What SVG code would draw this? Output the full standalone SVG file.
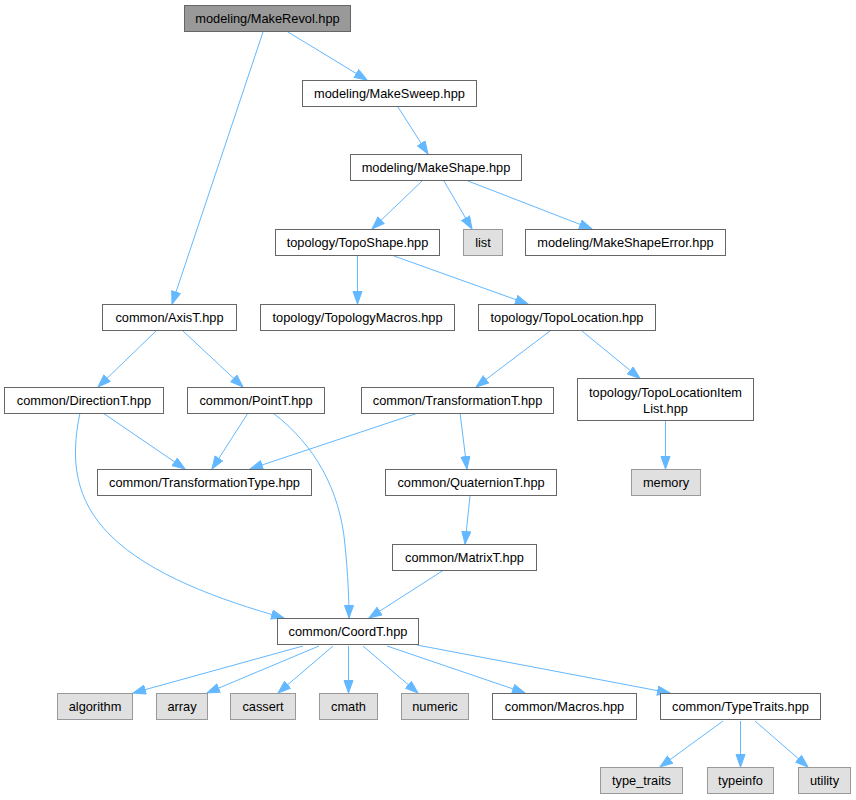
<svg xmlns="http://www.w3.org/2000/svg" width="856" height="800" viewBox="0 0 856 800">
<style>
  .n rect { fill: #ffffff; stroke: #666666; stroke-width: 1; }
  .s rect { fill: #e0e0e0; stroke: #999999; stroke-width: 1; }
  .r rect { fill: #999999; stroke: #666666; stroke-width: 1; }
  text { font-family: "Liberation Sans", Arial, sans-serif; font-size: 12.8px; fill: #000000; text-anchor: middle; }
  #edges path { fill: none; stroke: #63b8ff; stroke-width: 1; marker-end: url(#arr); }
</style>
<defs>
  <marker id="arr" markerUnits="userSpaceOnUse" markerWidth="14" markerHeight="11" refX="13" refY="5" orient="auto">
    <path d="M0.5,0.5 L13,5 L0.5,9.5 z" fill="#63b8ff" stroke="#63b8ff" stroke-width="1"/>
  </marker>
</defs>
<rect width="856" height="800" fill="#ffffff"/>
<g id="edges">
  <path d="M288,32 L367,80"/>
  <path d="M263,32 L172,304"/>
  <path d="M398,107 L428,154"/>
  <path d="M422,181 L372,229"/>
  <path d="M444,181 L472,229"/>
  <path d="M468,181 L592,229"/>
  <path d="M357.5,256 L357.5,304"/>
  <path d="M394,256 L528,304"/>
  <path d="M550,331 L476,387"/>
  <path d="M582,331 L640,378.5"/>
  <path d="M665.5,421 L665.5,469"/>
  <path d="M418,413 L250,469"/>
  <path d="M460,413 L467,469"/>
  <path d="M470,496 L465,544"/>
  <path d="M443,570.5 L369,618"/>
  <path d="M156,331 L98,387"/>
  <path d="M183,331 L243,387"/>
  <path d="M103,413 L185,469"/>
  <path d="M248,413 L212,469"/>
  <path d="M80,413 C70,460 75,500 110,535 C150,575 220,600 284,618"/>
  <path d="M273,413 C315,445 340,490 345,545 C348,575 349,600 349,618"/>
  <path d="M303,646 L133,693"/>
  <path d="M319,646 L207,693"/>
  <path d="M333,646 L278,693"/>
  <path d="M348.5,646 L348.5,693"/>
  <path d="M363,646 L418,693"/>
  <path d="M387,646 L525,693"/>
  <path d="M417,645 L670,693"/>
  <path d="M723,721 L660,767"/>
  <path d="M740.5,721 L740.5,767"/>
  <path d="M755,721 L808,767"/>
</g>
<g id="MakeRevol" class="r"><rect x="184.5" y="5.5" width="166" height="26"/><text x="267.5" y="23">modeling/MakeRevol.hpp</text></g>
<g id="MakeSweep" class="n"><rect x="302.5" y="80.5" width="174" height="26"/><text x="389.5" y="98">modeling/MakeSweep.hpp</text></g>
<g id="MakeShape" class="n"><rect x="350.5" y="154.5" width="171" height="26"/><text x="436" y="172">modeling/MakeShape.hpp</text></g>
<g id="TopoShape" class="n"><rect x="275.5" y="229.5" width="164" height="26"/><text x="357.5" y="247">topology/TopoShape.hpp</text></g>
<g id="list" class="s"><rect x="463.5" y="229.5" width="39" height="26"/><text x="483" y="247">list</text></g>
<g id="MakeShapeError" class="n"><rect x="525.5" y="229.5" width="200" height="26"/><text x="625.5" y="247">modeling/MakeShapeError.hpp</text></g>
<g id="TopologyMacros" class="n"><rect x="260.5" y="304.5" width="194" height="26"/><text x="357.5" y="322">topology/TopologyMacros.hpp</text></g>
<g id="TopoLocation" class="n"><rect x="478.5" y="304.5" width="177" height="26"/><text x="567" y="322">topology/TopoLocation.hpp</text></g>
<g id="AxisT" class="n"><rect x="102.5" y="304.5" width="134" height="26"/><text x="169.5" y="322">common/AxisT.hpp</text></g>
<g id="DirectionT" class="n"><rect x="4.5" y="387.5" width="159" height="26"/><text x="84" y="405">common/DirectionT.hpp</text></g>
<g id="PointT" class="n"><rect x="187.5" y="387.5" width="137" height="26"/><text x="256" y="405">common/PointT.hpp</text></g>
<g id="TransformationT" class="n"><rect x="361.5" y="387.5" width="192" height="26"/><text x="457.5" y="405">common/TransformationT.hpp</text></g>
<g id="TopoLocationItemList" class="n"><rect x="577.5" y="378.5" width="176" height="42"/><text x="665.5" y="397">topology/TopoLocationItem</text><text x="665.5" y="413">List.hpp</text></g>
<g id="TransformationType" class="n"><rect x="97.5" y="469.5" width="214" height="26"/><text x="204.5" y="487">common/TransformationType.hpp</text></g>
<g id="QuaternionT" class="n"><rect x="385.5" y="469.5" width="171" height="26"/><text x="471" y="487">common/QuaternionT.hpp</text></g>
<g id="memory" class="s"><rect x="631.5" y="469.5" width="69" height="26"/><text x="666" y="487">memory</text></g>
<g id="MatrixT" class="n"><rect x="392.5" y="544.5" width="144" height="26"/><text x="464.5" y="562">common/MatrixT.hpp</text></g>
<g id="CoordT" class="n"><rect x="277.5" y="618.5" width="141" height="26"/><text x="348" y="636">common/CoordT.hpp</text></g>
<g id="algorithm" class="s"><rect x="57.5" y="693.5" width="75" height="26"/><text x="95" y="711">algorithm</text></g>
<g id="array" class="s"><rect x="156.5" y="693.5" width="51" height="26"/><text x="182" y="711">array</text></g>
<g id="cassert" class="s"><rect x="230.5" y="693.5" width="65" height="26"/><text x="263" y="711">cassert</text></g>
<g id="cmath" class="s"><rect x="319.5" y="693.5" width="58" height="26"/><text x="348.5" y="711">cmath</text></g>
<g id="numeric" class="s"><rect x="401.5" y="693.5" width="67" height="26"/><text x="435" y="711">numeric</text></g>
<g id="Macros" class="n"><rect x="492.5" y="693.5" width="144" height="26"/><text x="564.5" y="711">common/Macros.hpp</text></g>
<g id="TypeTraits" class="n"><rect x="660.5" y="693.5" width="160" height="26"/><text x="740.5" y="711">common/TypeTraits.hpp</text></g>
<g id="type_traits" class="s"><rect x="600.5" y="767.5" width="82" height="26"/><text x="641.5" y="785">type_traits</text></g>
<g id="typeinfo" class="s"><rect x="707.5" y="767.5" width="66" height="26"/><text x="740.5" y="785">typeinfo</text></g>
<g id="utility" class="s"><rect x="798.5" y="767.5" width="52" height="26"/><text x="824.5" y="785">utility</text></g>
</svg>
